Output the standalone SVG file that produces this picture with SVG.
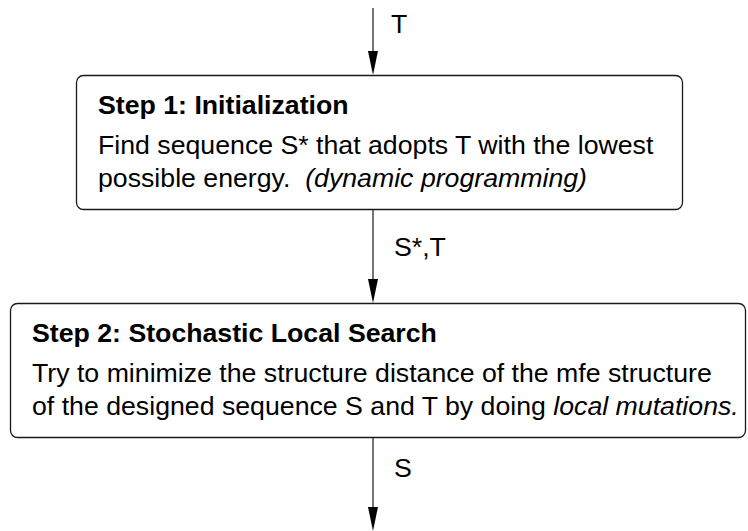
<svg xmlns="http://www.w3.org/2000/svg" width="748" height="531" viewBox="0 0 748 531">
  <style>
    .box { fill: #ffffff; stroke: #1a1a1a; stroke-width: 1.3; }
    .edge { stroke: #000000; stroke-width: 1.1; fill: none; }
    .head { fill: #000000; }
    text { font-family: "Liberation Sans", Arial, sans-serif; font-size: 26.7px; fill: #000000; }
    .title { font-weight: bold; }
    .em { font-style: italic; }
  </style>
  <rect width="748" height="531" fill="#ffffff"/>

  <!-- connectors: vertical flow with filled arrowheads and data labels -->
  <g id="connectors">
    <line class="edge" x1="373" y1="8" x2="373" y2="51"/>
    <path class="head" d="M368,51 L378,51 L373,75 Z"/>
    <text x="391" y="33">T</text>

    <line class="edge" x1="373" y1="210" x2="373" y2="279"/>
    <path class="head" d="M368,279 L378,279 L373,303 Z"/>
    <text x="394" y="256">S*,T</text>

    <line class="edge" x1="373" y1="438" x2="373" y2="507"/>
    <path class="head" d="M368,507 L378,507 L373,531 Z"/>
    <text x="394" y="477">S</text>
  </g>

  <!-- step 1 -->
  <g id="step1">
    <rect class="box" x="76.5" y="75.5" width="606" height="134" rx="7" ry="7"/>
    <text class="title" x="98" y="114">Step 1: Initialization</text>
    <text x="98" y="154">Find sequence S* that adopts T with the lowest</text>
    <text x="98" y="187" xml:space="preserve">possible energy.  <tspan class="em">(dynamic programming)</tspan></text>
  </g>

  <!-- step 2 -->
  <g id="step2">
    <rect class="box" x="10.5" y="303.5" width="735" height="134" rx="7" ry="7"/>
    <text class="title" x="32" y="342">Step 2: Stochastic Local Search</text>
    <text x="32" y="382">Try to minimize the structure distance of the mfe structure</text>
    <text x="32" y="415">of the designed sequence S and T by doing <tspan class="em">local mutations.</tspan></text>
  </g>
</svg>
